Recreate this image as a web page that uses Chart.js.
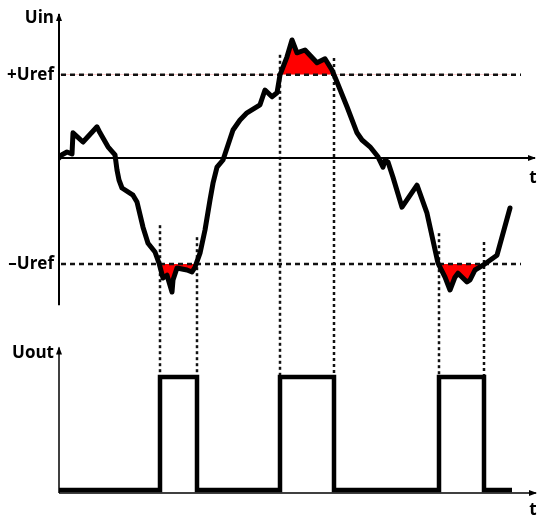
<!DOCTYPE html>
<html lang="en">
<head>
    <meta charset="UTF-8">
    <title>Comparator with hysteresis</title>
    <script src="https://cdn.jsdelivr.net/npm/chart.js"></script>
    <style>
        body {
            margin: 0;
            padding: 0;
            background-color: #ffffff;
            overflow: hidden;
        }

        .wrap {
            position: relative;
            width: 537px;
            height: 518px;
        }
    </style>
</head>
<body>
    <div class="wrap">
        <canvas id="scope"></canvas>
    </div>

    <script>
        // input signal (t in ms, Uin in V)
        const tIn = [0, 3, 8, 13, 14, 24, 38, 41, 49, 56, 58, 60, 63, 74, 78, 84, 89, 96, 100, 104,
            108, 113, 114, 118, 128, 133, 136, 141, 146, 151, 154, 158, 164, 174, 181, 188, 201, 206,
            213, 218, 221, 228, 233, 238, 246, 258, 266, 273, 278, 288, 298, 303, 311, 319, 324, 326,
            329, 334, 343, 358, 368, 379, 386, 391, 396, 399, 408, 411, 416, 424, 438, 451];
        const uIn = [0, 0.08, 0.15, 0.1, 0.63, 0.4, 0.78, 0.63, 0.28, 0.08, -0.3, -0.55, -0.75, -0.93,
            -1.1, -1.73, -2.13, -2.35, -2.63, -3.0, -2.93, -3.35, -3.05, -2.75, -2.8, -2.85, -2.73,
            -2.38, -1.8, -1.05, -0.63, -0.23, -0.05, 0.7, 0.95, 1.13, 1.33, 1.7, 1.53, 1.63, 2.08,
            2.53, 2.95, 2.63, 2.7, 2.38, 2.48, 2.2, 1.9, 1.28, 0.63, 0.45, 0.28, 0.03, -0.23, -0.05,
            -0.1, -0.48, -1.23, -0.68, -1.38, -2.63, -2.98, -3.3, -2.98, -2.88, -3.1, -3.05, -2.8,
            -2.68, -2.43, -1.25];

        // thresholds
        const uRefPlus = 2.08;
        const uRefMinus = -2.65;
        const refSpan = [2, 462];

        // comparator output (stepped)
        const tOut = [0, 101, 138, 221, 275, 380, 425, 453];
        const uOut = [0, 1, 0, 1, 0, 1, 0, 0];

        // switching instants and where their guide lines start on the Uin axis
        const switchTimes = [101, 138, 221, 275, 380, 425];
        const guideTops = [-1.68, -1.98, 2.58, 2.5, -1.88, -2.1];

        const pts = (xs, ys) => xs.map((x, i) => ({ x: x, y: ys[i] }));

        function arrowLine(ctx, x1, y1, x2, y2, width) {
            ctx.save();
            ctx.strokeStyle = '#000';
            ctx.fillStyle = '#000';
            ctx.lineWidth = width;
            ctx.beginPath();
            ctx.moveTo(x1, y1);
            ctx.lineTo(x2, y2);
            ctx.stroke();
            const a = Math.atan2(y2 - y1, x2 - x1);
            const len = 7, half = 3;
            ctx.beginPath();
            ctx.moveTo(x2 + Math.cos(a) * 1, y2 + Math.sin(a) * 1);
            ctx.lineTo(x2 - Math.cos(a) * len - Math.sin(a) * half, y2 - Math.sin(a) * len + Math.cos(a) * half);
            ctx.lineTo(x2 - Math.cos(a) * len + Math.sin(a) * half, y2 - Math.sin(a) * len - Math.cos(a) * half);
            ctx.closePath();
            ctx.fill();
            ctx.restore();
        }

        const diagram = {
            id: 'diagram',
            beforeDatasetsDraw(chart) {
                const ctx = chart.ctx;
                const x = chart.scales.x, yIn = chart.scales.yIn, yOut = chart.scales.yOut;
                ctx.save();
                ctx.strokeStyle = '#111';
                ctx.lineWidth = 2.5;
                ctx.setLineDash([3, 3]);
                switchTimes.forEach((t, i) => {
                    const px = Math.round(x.getPixelForValue(t));
                    ctx.beginPath();
                    ctx.moveTo(px, yIn.getPixelForValue(guideTops[i]));
                    ctx.lineTo(px, yOut.getPixelForValue(1));
                    ctx.stroke();
                });
                ctx.restore();
            },
            afterDatasetsDraw(chart) {
                const ctx = chart.ctx;
                const x = chart.scales.x, yIn = chart.scales.yIn, yOut = chart.scales.yOut;
                const x0 = x.getPixelForValue(0);
                const zeroIn = yIn.getPixelForValue(0);
                const zeroOut = yOut.getPixelForValue(0) + 3;

                // axes
                arrowLine(ctx, x0, yIn.getPixelForValue(-3.68), x0, yIn.getPixelForValue(3.6), 2);
                arrowLine(ctx, x0, zeroIn, x.getPixelForValue(476), zeroIn, 2);
                arrowLine(ctx, x0, zeroOut, x0, yOut.getPixelForValue(1.26), 1.5);
                arrowLine(ctx, x0, zeroOut, x.getPixelForValue(477), zeroOut, 1.5);

                // labels
                ctx.save();
                ctx.fillStyle = '#000';
                ctx.font = 'bold 17px "Open Sans", sans-serif';
                ctx.textBaseline = 'middle';
                ctx.textAlign = 'right';
                ctx.fillText('Uin', 54, yIn.getPixelForValue(3.5));
                ctx.fillText('+Uref', 54, yIn.getPixelForValue(uRefPlus));
                ctx.fillText('\u2013Uref', 54, yIn.getPixelForValue(uRefMinus));
                ctx.fillText('Uout', 54, yOut.getPixelForValue(1.21));
                ctx.textAlign = 'center';
                ctx.fillText('t', x.getPixelForValue(474), zeroIn + 20);
                ctx.fillText('t', x.getPixelForValue(474), zeroOut + 17);
                ctx.restore();
            }
        };

        new Chart(document.getElementById('scope'), {
            type: 'line',
            data: {
                datasets: [
                    {
                        // red area above +Uref
                        data: pts(tIn, uIn),
                        yAxisID: 'yIn',
                        borderWidth: 0,
                        pointRadius: 0,
                        fill: { target: { value: uRefPlus }, above: '#ff0000', below: 'rgba(0,0,0,0)' },
                        order: 4
                    },
                    {
                        // red area below -Uref
                        data: pts(tIn, uIn),
                        yAxisID: 'yIn',
                        borderWidth: 0,
                        pointRadius: 0,
                        fill: { target: { value: uRefMinus }, above: 'rgba(0,0,0,0)', below: '#ff0000' },
                        order: 4
                    },
                    {
                        data: pts(refSpan, [uRefPlus, uRefPlus]),
                        yAxisID: 'yIn',
                        borderColor: '#111',
                        borderWidth: 2.5,
                        borderDash: [5, 4],
                        pointRadius: 0,
                        fill: false,
                        order: 3
                    },
                    {
                        data: pts(refSpan, [uRefMinus, uRefMinus]),
                        yAxisID: 'yIn',
                        borderColor: '#111',
                        borderWidth: 2.5,
                        borderDash: [5, 4],
                        pointRadius: 0,
                        fill: false,
                        order: 3
                    },
                    {
                        label: 'Uin',
                        data: pts(tIn, uIn),
                        yAxisID: 'yIn',
                        borderColor: '#000',
                        borderWidth: 5,
                        borderJoinStyle: 'round',
                        borderCapStyle: 'round',
                        pointRadius: 0,
                        tension: 0,
                        fill: false,
                        order: 1
                    },
                    {
                        label: 'Uout',
                        data: pts(tOut, uOut),
                        yAxisID: 'yOut',
                        stepped: true,
                        borderColor: '#000',
                        borderWidth: 4.5,
                        borderJoinStyle: 'miter',
                        pointRadius: 0,
                        fill: false,
                        order: 1
                    }
                ]
            },
            options: {
                responsive: true,
                maintainAspectRatio: false,
                animation: false,
                events: [],
                layout: { padding: { left: 59, right: 2, top: 0, bottom: 0 } },
                plugins: {
                    legend: { display: false },
                    tooltip: { enabled: false }
                },
                scales: {
                    x: { type: 'linear', min: 0, max: 476, display: false },
                    yIn: { type: 'linear', min: -9.0, max: 3.95, display: false },
                    yOut: { type: 'linear', min: -0.248, max: 4.336, display: false }
                }
            },
            plugins: [diagram]
        });
    </script>
</body>
</html>
